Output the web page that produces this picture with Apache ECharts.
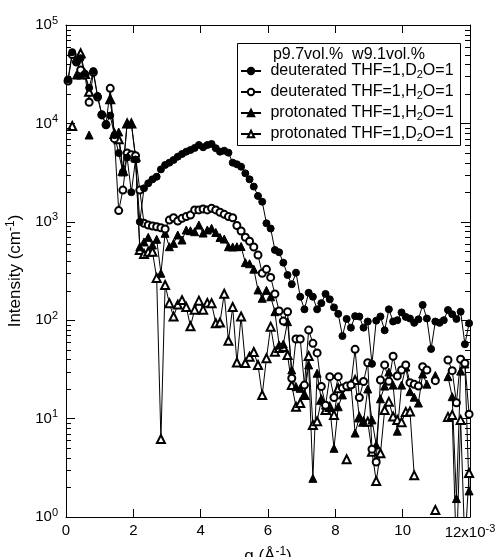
<!DOCTYPE html>
<html><head><meta charset="utf-8">
<script src="https://cdn.jsdelivr.net/npm/echarts@6/dist/echarts.min.js"></script>
<style>html,body{margin:0;padding:0;background:#fff}#c{width:499px;height:557px}</style>
</head><body><div id="c"></div>
<script>
// q in units of 1e-3 1/Angstrom
const q = [0.060,0.185,0.311,0.436,0.562,0.687,0.812,0.938,1.063,1.189,
1.314,1.439,1.565,1.690,1.816,1.941,2.066,2.192,2.317,2.443,
2.568,2.693,2.819,2.944,3.070,3.195,3.320,3.446,3.571,3.697,
3.822,3.947,4.073,4.198,4.324,4.449,4.574,4.700,4.825,4.951,
5.076,5.201,5.327,5.452,5.578,5.703,5.828,5.954,6.079,6.205,
6.330,6.455,6.581,6.706,6.832,6.957,7.082,7.208,7.333,7.459,
7.584,7.709,7.835,7.960,8.086,8.211,8.336,8.462,8.587,8.713,
8.838,8.963,9.089,9.214,9.340,9.465,9.590,9.716,9.841,9.967,
10.092,10.217,10.343,10.468,10.594,10.719,10.844,10.970,11.095,11.221,
11.346,11.471,11.597,11.722,11.848,11.973];

const dD2O = [28000,53000,43000,46000,32000,23000,34000,19000,12400,9800,
12000,7600,5000,3200,4500,2000,4300,1000,2190,2460,
2700,2870,3410,3780,3990,4250,4590,4890,5160,5370,
5630,6030,5720,6030,6180,5590,5160,5280,5040,3990,
3840,3630,3110,2700,2280,1830,1600,966,855,517,
490,384,288,232,304,173,129,190,173,129,
149,185,163,135,116,69,103,84,110,109,
84,97,36,99,109,79,129,97,100,120,
108,104,94,102,143,104,51,97,94,100,
127,115,103,122,57,93];

const dH2O = [27000,50000,42000,34900,31000,16400,33000,18500,12200,9700,
22700,7000,1300,2100,5000,4800,4700,2100,966,927,
906,891,871,845,1040,1100,1020,1085,1130,1170,
1320,1320,1350,1320,1370,1320,1250,1190,1130,1100,
916,806,697,635,555,460,300,329,272,185,
124,98,122,25.7,64.4,64.4,21.9,79.4,58.2,46.5,
21.2,13.7,26.7,16.4,26.7,20.5,21.4,21.9,50.6,16.4,
23.8,36.9,4.89,3.62,24.7,35.1,23.9,43,27.1,31.2,
35.1,23.2,22.3,21.4,33.7,31.2,null,24.3,null,null,
39.4,30.7,14.5,40.1,36.5,11.1];

const pH2O = [null,null,31000,31000,null,7620,null,null,null,null,
17600,7980,8180,3210,10000,10000,4420,558,624,695,
581,664,300,764,558,604,734,653,826,812,
793,927,769,826,859,778,692,668,558,555,
558,561,385,375,330,203,167,201,173,122,
56,57.3,96.6,31.2,21.1,20.3,17.4,35.1,2.47,28.9,
15.5,13.7,13.0,4.99,13.2,17.4,21.1,22.8,7.13,10.2,
9.29,20,9.7,5.4,15.9,21.4,29.7,21.9,7.45,21.9,
33.4,18.8,16.5,14.4,28.4,22.4,null,27.4,null,null,
26.7,16.7,1.54,30.4,35.9,1.84];

const pD2O = [null,9420,null,51500,31800,21000,null,null,null,null,
17600,7800,6890,3300,10000,10000,4600,517,470,497,
497,269,6.2,228,149,109,144,160,136,86.7,
128,158,128,150,149,93,94.6,186,61.7,136,
37.2,109,36.7,42.6,47.5,35.1,17.4,41,86,47.9,
52.1,53.4,44.3,21.9,13.2,14.4,17.4,43.3,8.6,9.4,
15.5,12.2,13.1,10.9,20.3,null,3.86,null,24.7,10.3,
9.3,9.3,4.6,2.32,4.44,12.2,14.8,10.5,9.7,9.2,
11.7,11.8,2.65,null,null,null,null,1.18,null,null,
10.4,10.9,0.4,9.7,0.5,2.8];

const seriesNames = ['deuterated THF=1,D2O=1','deuterated THF=1,H2O=1','protonated THF=1,H2O=1','protonated THF=1,D2O=1'];
const legendTitle = 'p9.7vol.%  w9.1vol.%';
const xMin = 0, xMax = 12, xStep = 2;
const yMin = 1, yMax = 100000;
const minorMultipliers = [2,3,4,5,6,7,8,9];
const decadeStarts = [1,10,100,1000,10000];

const FONT = 'Liberation Sans, Arial, Helvetica, sans-serif';
const tickRich = {
  b: {fontSize: 15, fontFamily: FONT, color: '#000'},
  s: {fontSize: 11, fontFamily: FONT, color: '#000', padding: [0,0,9,0]}
};
const nameRich = {
  b: {fontSize: 17, fontFamily: FONT, color: '#000'},
  s: {fontSize: 12, fontFamily: FONT, color: '#000', padding: [0,0,10,0]}
};

function pairs(arr){ return q.map((x,i)=> [x, arr[i] == null ? '-' : arr[i]]); }

const minorTicks = [];
decadeStarts.forEach(d => minorMultipliers.forEach(m => minorTicks.push([xMin, d*m])));

const chart = echarts.init(document.getElementById('c'), null, {renderer:'canvas', width: 499, height: 557});

function lineSeries(name, arr, symbol, size){
  return {
    name, type:'line', data: pairs(arr), symbol, symbolSize: size,
    showAllSymbol: true, connectNulls: false, clip: true,
    lineStyle: {color:'#000', width: 1},
    itemStyle: {color:'#000', borderColor:'#000', borderWidth: 1},
    emphasis: {disabled: true}, animation: false
  };
}

const axisCommon = {
  axisLine: {show: true, onZero: false, lineStyle: {color:'#000', width: 1}},
  splitLine: {show: false}
};

chart.setOption({
  backgroundColor: '#fff',
  animation: false,
  grid: {left: 66, right: 29, top: 25, bottom: 40, containLabel: false, outerBoundsMode: 'none'},
  xAxis: [
    Object.assign({
      type:'value', min: xMin, max: xMax, interval: xStep,
      name: '{b|q (Å}{s|-1}{b|)}', nameLocation: 'middle', nameGap: 21,
      nameTextStyle: {fontSize: 17, fontFamily: FONT, color:'#000', rich: nameRich},
      axisTick: {show: true, inside: true, length: 8, lineStyle: {color:'#000'}},
      axisLabel: {margin: 6, color:'#000', fontSize: 15, fontFamily: FONT, rich: tickRich,
        formatter: v => v === xMax ? '{b|' + v + 'x10}{s|-3}' : '{b|' + v + '}'}
    }, axisCommon),
    Object.assign({
      type:'value', min: xMin, max: xMax, interval: xStep, position: 'top',
      axisTick: {show: true, inside: true, length: 8, lineStyle: {color:'#000'}},
      axisLabel: {show: false}
    }, axisCommon)
  ],
  yAxis: [
    Object.assign({
      type:'log', logBase: 10, min: yMin, max: yMax,
      name: '{b|Intensity (cm}{s|-1}{b|)}', nameLocation: 'middle', nameGap: 31,
      nameTextStyle: {fontSize: 17, fontFamily: FONT, color:'#000', rich: nameRich},
      axisTick: {show: true, inside: true, length: 9, lineStyle: {color:'#000'}},
      axisLabel: {margin: 8, color:'#000', rich: tickRich,
        formatter: v => '{b|10}{s|' + Math.round(Math.log10(v)) + '}'}
    }, axisCommon),
    Object.assign({
      type:'log', logBase: 10, min: yMin, max: yMax, position: 'right',
      axisTick: {show: true, inside: true, length: 9, lineStyle: {color:'#000'}},
      axisLabel: {show: false}
    }, axisCommon)
  ],
  legend: {
    data: seriesNames,
    orient: 'vertical', left: 237, top: 43, padding: [20, 4, 4, 3],
    itemWidth: 20, itemHeight: 8, itemGap: 4,
    selectedMode: false,
    textStyle: {fontSize: 16, fontFamily: FONT, color:'#000', lineHeight: 16,
      rich: {
        t: {fontSize: 16, fontFamily: FONT, color:'#000'},
        u: {fontSize: 11, fontFamily: FONT, color:'#000', padding: [7,0,0,0]}
      }},
    formatter: name => '{t| ' + name.replace(/([DH])2O/, '$1}{u|2}{t|O') + '}'
  },
  graphic: [
    {type:'rect', shape:{x: 237.5, y: 43.5, width: 223, height: 102}, style:{fill:'none', stroke:'#000', lineWidth: 1}, silent: true},
    {type:'text', x: 349, y: 55, style:{text: legendTitle, fontSize: 16, fontFamily: FONT, fill:'#000', align:'center', verticalAlign:'middle'}, silent: true}
  ],
  series: [
    lineSeries(seriesNames[3], pD2O, 'emptyTriangle', 8),
    lineSeries(seriesNames[2], pH2O, 'triangle', 8),
    lineSeries(seriesNames[1], dH2O, 'emptyCircle', 7),
    lineSeries(seriesNames[0], dD2O, 'circle', 7),
    {
      type: 'custom', silent: true, clip: false, z: 5,
      data: minorTicks,
      renderItem: (params, api) => {
        const v = api.value(1);
        const l = api.coord([xMin, v]);
        const r = api.coord([xMax, v]);
        const y = Math.round(l[1]) + 0.5;
        return {type:'group', children:[
          {type:'line', shape:{x1: l[0], y1: y, x2: l[0] + 5, y2: y}, style:{stroke:'#000', lineWidth: 1}},
          {type:'line', shape:{x1: r[0] - 5, y1: y, x2: r[0], y2: y}, style:{stroke:'#000', lineWidth: 1}}
        ]};
      }
    }
  ]
});
</script></body></html>
